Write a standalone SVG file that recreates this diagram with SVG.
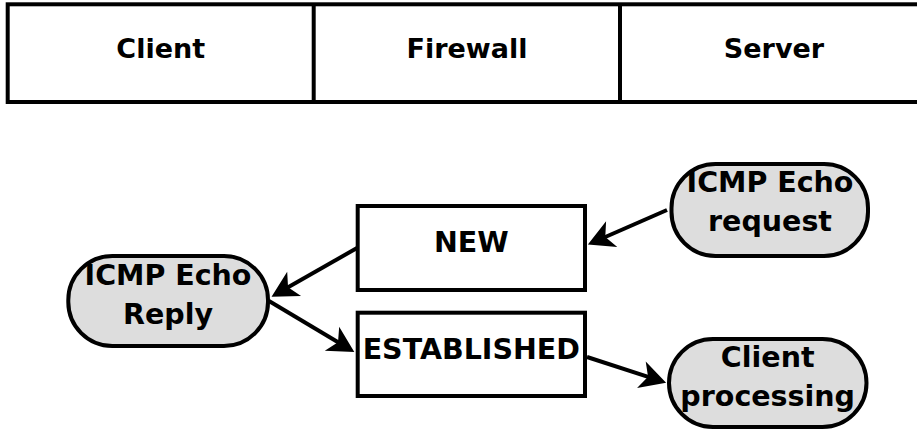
<svg xmlns="http://www.w3.org/2000/svg" width="917" height="429" viewBox="0 0 917 429">
<style>
.frame{fill:#fff;stroke:#000;stroke-width:4}
.box{fill:#fff;stroke:#000;stroke-width:4}
.pill{fill:#dddddd;stroke:#000;stroke-width:4}
.t{font-family:"DejaVu Sans",sans-serif;font-weight:bold;font-size:28.5px;fill:#000;text-anchor:middle}
.h{font-size:27px}
.edge{stroke:#000;stroke-width:4;fill:none;marker-end:url(#ah)}
</style>
<defs>
<marker id="ah" markerUnits="userSpaceOnUse" markerWidth="32" markerHeight="32" viewBox="0 0 32 32" refX="16" refY="16" orient="auto" overflow="visible">
<path d="M30,16 L4,2 L11,16 L4,30 Z" fill="#000"/>
</marker>
</defs>
<rect width="917" height="429" fill="#fff"/>
<g id="header">
<rect class="frame" x="7.7" y="4.3" width="930" height="97.7"/>
<line x1="313.7" y1="4.3" x2="313.7" y2="102" stroke="#000" stroke-width="4"/>
<line x1="620" y1="4.3" x2="620" y2="102" stroke="#000" stroke-width="4"/>
<text class="t h" x="160.7" y="57.7">Client</text>
<text class="t h" x="467" y="57.7">Firewall</text>
<text class="t h" x="774" y="57.7">Server</text>
</g>
<g id="connectors">
<line class="edge" x1="357" y1="248" x2="283.7" y2="289.8"/>
<line class="edge" x1="269" y1="301" x2="342.3" y2="344.8"/>
<line class="edge" x1="667" y1="210" x2="600.7" y2="239"/>
<line class="edge" x1="587" y1="357" x2="652.8" y2="378.4"/>
</g>
<g id="new">
<rect class="box" x="357.7" y="206" width="227.3" height="84"/>
<text class="t" x="471.3" y="251.7">NEW</text>
</g>
<g id="established">
<rect class="box" x="357.7" y="312.7" width="227.3" height="83.3"/>
<text class="t" x="471.3" y="359">ESTABLISHED</text>
</g>
<g id="reply">
<rect class="pill" x="68.3" y="256" width="199.7" height="90" rx="44" ry="44"/>
<text class="t" x="168" y="285">ICMP Echo</text>
<text class="t" x="168" y="324.3">Reply</text>
</g>
<g id="request">
<rect class="pill" x="671.5" y="164" width="196.5" height="92" rx="44" ry="44"/>
<text class="t" x="770" y="192">ICMP Echo</text>
<text class="t" x="770" y="231">request</text>
</g>
<g id="processing">
<rect class="pill" x="669" y="339" width="197.5" height="88" rx="44" ry="44"/>
<text class="t" x="767.7" y="367">Client</text>
<text class="t" x="767.7" y="406">processing</text>
</g>
</svg>
